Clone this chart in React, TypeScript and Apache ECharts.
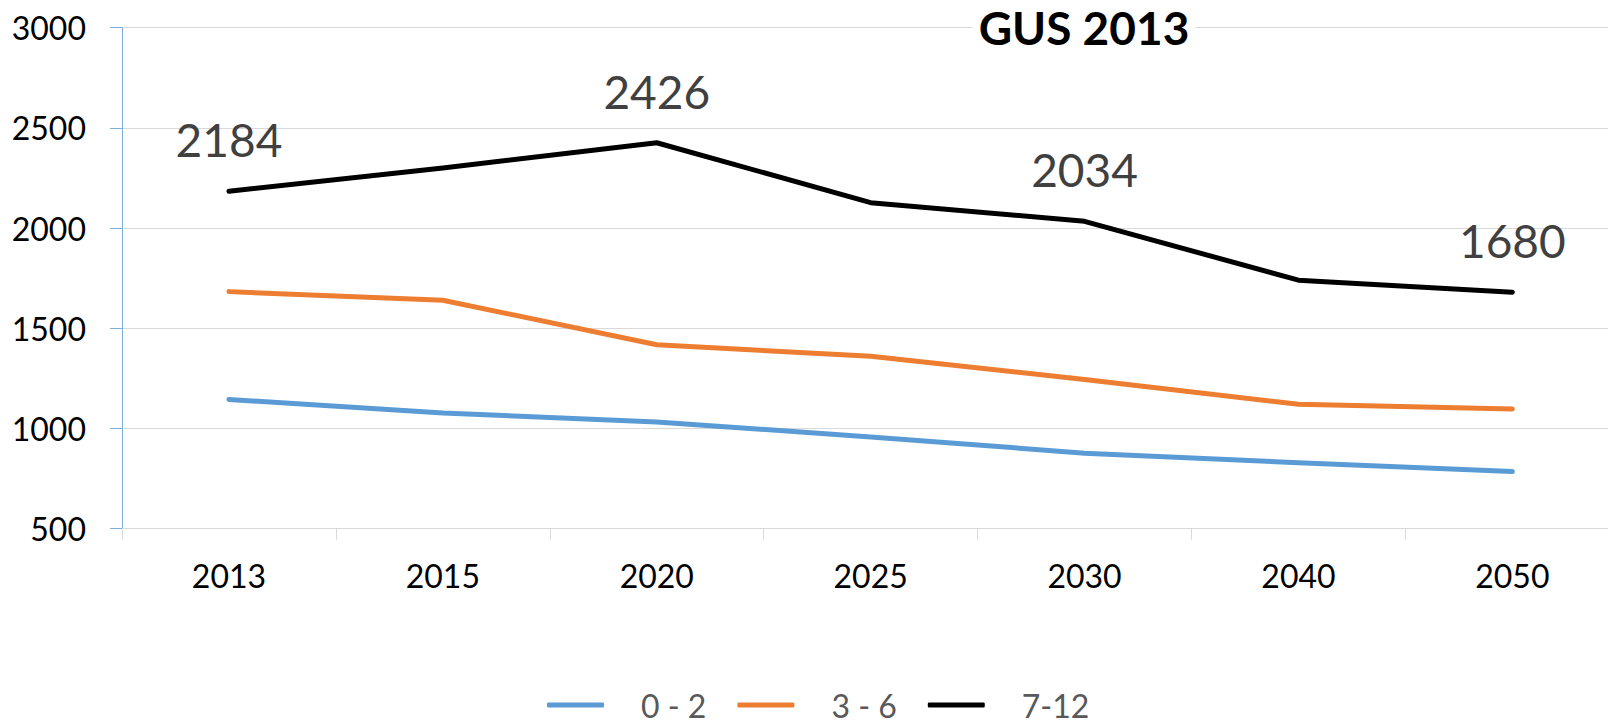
import React, { useEffect, useRef } from "react";
import * as echarts from "echarts";

const years = ["2013", "2015", "2020", "2025", "2030", "2040", "2050"];
const age0to2 = [1145, 1077, 1033, 958, 877, 829, 785];
const age3to6 = [1683, 1640, 1418, 1360, 1245, 1121, 1097];
const age7to12 = [2184, 2300, 2426, 2127, 2034, 1740, 1680];
const labelledYears = ["2013", "2020", "2030", "2050"];
const yTicks = { min: 500, max: 3000, step: 500 };
const titleText = "GUS 2013";
const seriesNames = ["0 - 2", "3 - 6", "7-12"];

const FONT = "Lato";

export default function App() {
  const ref = useRef<HTMLDivElement>(null);
  useEffect(() => {
    document.body.style.margin = "0";
    if (!ref.current) return;
    const chart = echarts.init(ref.current, undefined, { renderer: "svg" });
    const colors = ["#5B9BD5", "#ED7D31", "#000000"];
    const datasets = [age0to2, age3to6, age7to12];
    chart.setOption({
      animation: false,
      backgroundColor: "#ffffff",
      textStyle: { fontFamily: FONT },
      title: {
        text: titleText,
        left: 1078,
        top: 4,
        textAlign: "center",
        padding: [0, 6, 0, 6],
        backgroundColor: "#ffffff",
        textStyle: { fontFamily: FONT, fontSize: 46, fontWeight: "bold", color: "#000000" },
        z: 10,
      },
      legend: {
        left: 542,
        top: 684,
        itemWidth: 57,
        itemHeight: 5,
        itemGap: 31,
        icon: "roundRect",
        data: seriesNames,
        textStyle: {
          fontFamily: FONT,
          fontSize: 32,
          color: "#595959",
          padding: [0, 0, 0, 32],
        },
      },
      grid: {
        left: 122,
        top: 27.7,
        right: -11.3,
        bottom: 194.3,
        containLabel: false,
        outerBoundsMode: "none",
      },
      xAxis: {
        type: "category",
        data: years,
        boundaryGap: true,
        axisLine: { show: true, lineStyle: { color: "#D9D9D9", width: 1 } },
        axisTick: { show: true, length: 11, lineStyle: { color: "#D9D9D9", width: 1 } },
        axisLabel: { fontFamily: FONT, fontSize: 32, color: "#000000", margin: 31 },
        splitLine: { show: false },
      },
      yAxis: {
        type: "value",
        min: yTicks.min,
        max: yTicks.max,
        interval: yTicks.step,
        axisLine: { show: true, lineStyle: { color: "#7DAEE0", width: 1 } },
        axisTick: { show: true, length: 12, lineStyle: { color: "#7DAEE0", width: 1 } },
        axisLabel: {
          fontFamily: FONT,
          fontSize: 32,
          color: "#000000",
          margin: 36,
          formatter: (v: number) => String(v),
        },
        splitLine: { show: true, lineStyle: { color: "#D9D9D9", width: 1 } },
      },
      series: seriesNames.map((name, si) => ({
        name,
        type: "line",
        color: colors[si],
        data: datasets[si].map((v, i) => {
          const labelled = si === 2 && labelledYears.includes(years[i]);
          return {
            value: v,
            label: {
              show: labelled,
              position: "top",
              distance: 28,
              fontFamily: FONT,
              fontSize: 46,
              color: "#404040",
            },
          };
        }),
        symbol: "circle",
        symbolSize: 1,
        showSymbol: true,
        itemStyle: { color: colors[si] },
        lineStyle: { color: colors[si], width: 5, cap: "round", join: "round" },
        z: 3 + si,
      })),
    });
    return () => chart.dispose();
  }, []);
  return <div ref={ref} style={{ width: 1608, height: 723 }} />;
}
